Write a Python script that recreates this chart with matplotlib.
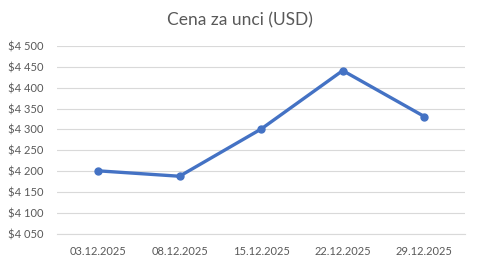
import matplotlib
matplotlib.use("Agg")
import matplotlib.pyplot as plt
from matplotlib.ticker import FuncFormatter

dates = ["03.12.2025", "08.12.2025", "15.12.2025", "22.12.2025", "29.12.2025"]
prices = [4201, 4188, 4301, 4441, 4331]
y_ticks = [4050, 4100, 4150, 4200, 4250, 4300, 4350, 4400, 4450, 4500]
title = "Cena za unci (USD)"

plt.rcParams['font.family'] = ['Lato', 'DejaVu Sans']

fig = plt.figure(figsize=(4.8, 2.67), dpi=100)
ax = fig.add_axes([0.119, 0.124, 0.850, 0.704])

x = list(range(len(dates)))
ax.plot(x, prices, color="#4472C4", linewidth=2.4, marker="o", markersize=5,
        solid_joinstyle="round", solid_capstyle="round", zorder=3)

ax.set_xlim(-0.5, len(dates) - 0.5)
ax.set_ylim(4050, 4500)
ax.set_yticks(y_ticks)
ax.yaxis.set_major_formatter(FuncFormatter(lambda v, p: "$" + f"{int(v):,}".replace(",", " ")))
ax.set_xticks(x)
ax.set_xticklabels(dates)

ax.grid(axis="y", color="#D9D9D9", linewidth=0.8)
ax.set_axisbelow(True)
for s in ["top", "right", "left"]:
    ax.spines[s].set_visible(False)
ax.spines["bottom"].set_color("#D9D9D9")
ax.spines["bottom"].set_linewidth(0.8)
ax.tick_params(axis="both", length=0, labelsize=8, labelcolor="#595959")
ax.tick_params(axis="x", pad=9)
ax.tick_params(axis="y", pad=10)

fig.text(0.5, 0.925, title, ha="center", va="center", fontsize=12.5, color="#595959")

fig.savefig("out.png", dpi=100, facecolor="white")
